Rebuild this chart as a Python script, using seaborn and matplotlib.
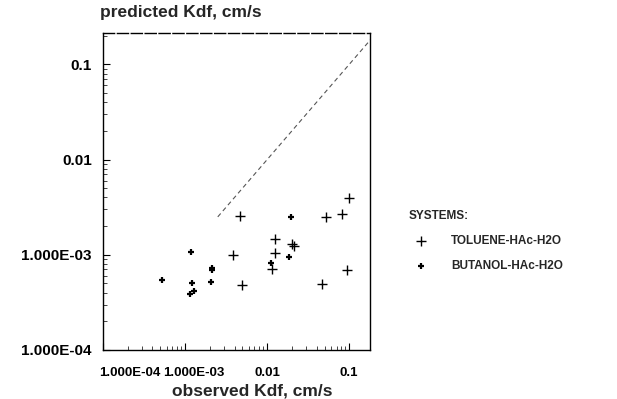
import matplotlib
matplotlib.use("Agg")
import matplotlib.pyplot as plt
import matplotlib.transforms as mtransforms
import numpy as np
import pandas as pd
import seaborn as sns

# observed vs predicted dispersed-phase mass transfer coefficients, cm/s
toluene_obs = [0.098, 4.7e-3, 0.052, 0.082, 0.0125, 0.0125, 0.020, 0.021,
               3.8e-3, 0.094, 0.0114, 4.9e-3, 0.046]
toluene_pred = [3.9e-3, 2.53e-3, 2.5e-3, 2.68e-3, 1.45e-3, 1.04e-3, 1.30e-3, 1.25e-3,
                1.0e-3, 6.9e-4, 7.0e-4, 4.8e-4, 4.9e-4]
butanol_obs = [1.18e-3, 2.1e-3, 2.1e-3, 1.2e-3, 2.05e-3, 1.27e-3, 1.15e-3,
               0.0195, 0.0111, 0.0185, 5.2e-4]
butanol_pred = [1.07e-3, 6.9e-4, 7.2e-4, 5.1e-4, 5.2e-4, 4.2e-4, 3.9e-4,
                2.5e-3, 8.2e-4, 9.5e-4, 5.4e-4]
systems = ["TOLUENE-HAc-H2O", "BUTANOL-HAc-H2O"]

# 1:1 parity line
parity = [2.5e-3, 0.2]

xticks = [1e-4, 1e-3, 1e-2, 1e-1]
xticklabels = ["1.000E-04", "1.000E-03", "0.01", "0.1"]
yticks = [1e-4, 1e-3, 1e-2, 1e-1]
yticklabels = ["1.000E-04", "1.000E-03", "0.01", "0.1"]

df = pd.DataFrame({
    "observed": toluene_obs + butanol_obs,
    "predicted": toluene_pred + butanol_pred,
    "system": [systems[0]] * len(toluene_obs) + [systems[1]] * len(butanol_obs),
})

sns.set_style("ticks")
plt.rcParams["font.family"] = ["Liberation Sans", "DejaVu Sans"]
plt.rcParams["font.weight"] = "bold"

fig = plt.figure(figsize=(6.17, 3.99), dpi=100)
ax = fig.add_axes([0.167, 0.123, 0.433, 0.794])

ax.set_xscale("log")
ax.set_yscale("log")

tol = df[df["system"] == systems[0]]
but = df[df["system"] == systems[1]]
sns.scatterplot(data=tol, x="observed", y="predicted", marker="+", s=55,
                color="black", linewidth=1.0, label=systems[0], ax=ax)
sns.scatterplot(data=but, x="observed", y="predicted", marker="+", s=22,
                color="black", linewidth=1.6, label=systems[1], ax=ax)
sns.lineplot(x=parity, y=parity, color="#555555", linewidth=0.8,
             linestyle=(0, (4, 3)), ax=ax, legend=False)

ax.set_xlim(1e-4, 0.18)
ax.set_ylim(1.19e-4, 0.213)

ax.set_xticks(xticks)
ax.set_xticklabels(xticklabels)
ax.set_yticks(yticks)
ax.set_yticklabels(yticklabels)
ax.tick_params(axis="both", which="major", direction="in", length=5, width=0.8,
               colors="black")
ax.tick_params(axis="x", which="major", pad=12, labelsize=9.5)
ax.tick_params(axis="y", which="major", pad=8, labelsize=11)
ax.tick_params(axis="both", which="minor", direction="in", length=3, width=0.6)

# crowded x labels nudged right so they sit side by side
for lbl, dx in zip(ax.get_xticklabels(), [27, 9, 0, 0]):
    lbl.set_transform(lbl.get_transform() +
                      mtransforms.ScaledTranslation(dx / 100, 0, fig.dpi_scale_trans))

for side in ["left", "right", "bottom", "top"]:
    ax.spines[side].set_visible(True)
    ax.spines[side].set_color("black")
    ax.spines[side].set_linewidth(1.0)
ax.spines["top"].set_linestyle((0, (8, 2)))

ax.set_xlabel("observed Kdf, cm/s", fontsize=12.5, fontweight="bold", labelpad=2)
ax.xaxis.set_label_coords(0.56, -0.105)
ax.set_ylabel("")
fig.text(100 / 617, 1 - 12 / 399, "predicted Kdf, cm/s", fontsize=12.5,
         fontweight="bold", ha="left", va="center")

leg = ax.legend(title="SYSTEMS:", loc="upper left", bbox_to_anchor=(404 / 617, 1 - 205 / 399),
                bbox_transform=fig.transFigure, frameon=False,
                prop={"size": 8.5, "weight": "bold"},
                title_fontproperties={"size": 8.5, "weight": "bold"},
                handletextpad=1.6, labelspacing=1.1, borderaxespad=0)
leg._legend_box.align = "left"

fig.savefig("out.png", dpi=100)
